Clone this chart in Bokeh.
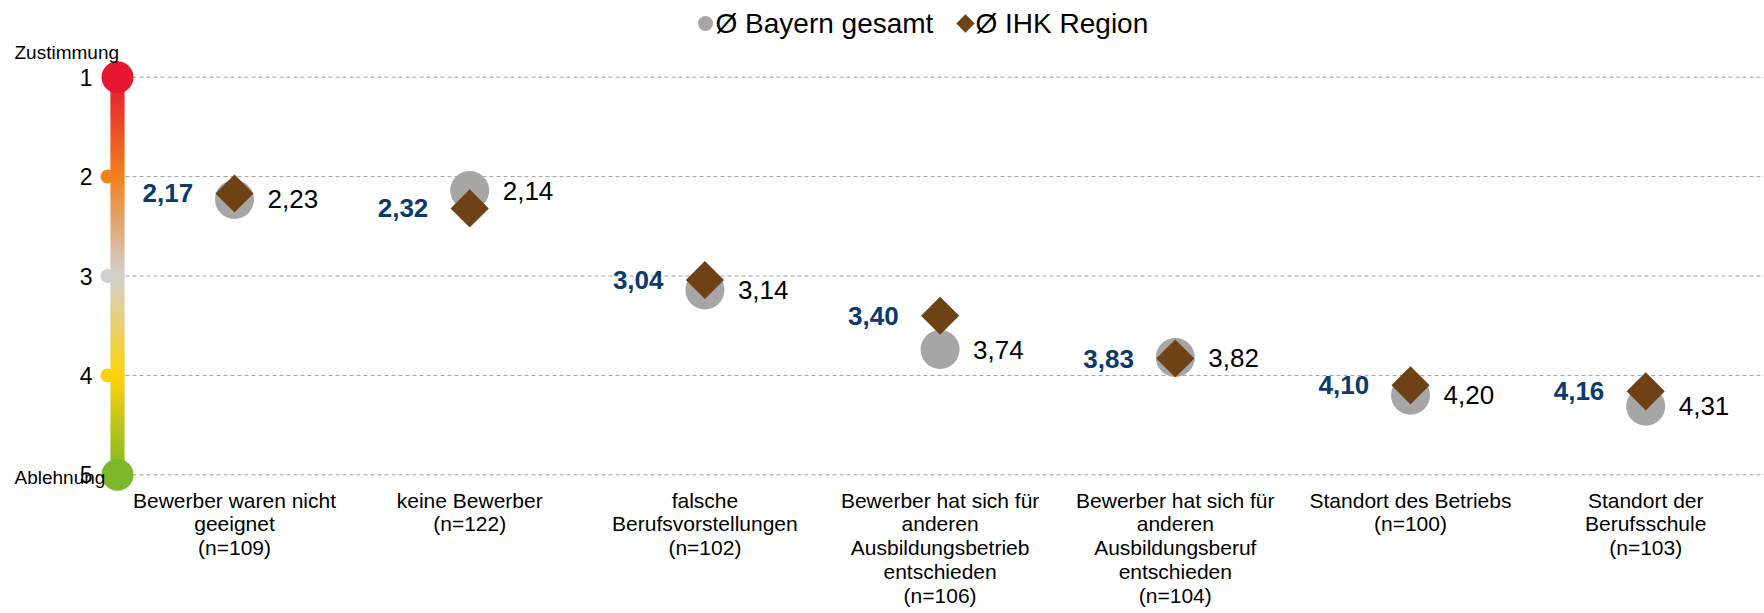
import numpy as np
from bokeh.plotting import figure
from bokeh.models import Range1d, ColumnDataSource
from bokeh.core.properties import value
from bokeh.embed import file_html
from bokeh.resources import INLINE

# ---------------- data ----------------
categories = [
    "Bewerber waren nicht\ngeeignet\n(n=109)",
    "keine Bewerber\n(n=122)",
    "falsche\nBerufsvorstellungen\n(n=102)",
    "Bewerber hat sich für\nanderen\nAusbildungsbetrieb\nentschieden\n(n=106)",
    "Bewerber hat sich für\nanderen\nAusbildungsberuf\nentschieden\n(n=104)",
    "Standort des Betriebs\n(n=100)",
    "Standort der\nBerufsschule\n(n=103)",
]
ihk_region = [2.17, 2.32, 3.04, 3.40, 3.83, 4.10, 4.16]
bayern_gesamt = [2.23, 2.14, 3.14, 3.74, 3.82, 4.20, 4.31]
scale_ticks = [1, 2, 3, 4, 5]
scale_tick_labels = ["1", "2", "3", "4", "5"]
scale_top_label = "Zustimmung"
scale_bottom_label = "Ablehnung"
legend_labels = ["Ø Bayern gesamt", "Ø IHK Region"]

# ---------------- styles ----------------
FONT = value("Liberation Sans")
GRAY = "#A6A6A6"
BROWN = "#6F4216"
BLUE = "#0B3A6E"
stop_colors = ["#E4172F", "#F0821E", "#D1D0CE", "#FDD20B", "#7DB82B"]

W, H = 1764, 613
X0, DX = 234.0, 235.2   # pixel of first category, category spacing
Y1, DY = 76.7, 99.4     # pixel of value 1, pixels per unit


def fx(px):
    return (px - X0) / DX


def fy(py):
    return 1 + (py - Y1) / DY


p = figure(width=W, height=H,
           x_range=Range1d(fx(0), fx(W)),
           y_range=Range1d(fy(H), fy(0)),
           x_axis_location=None, y_axis_location=None,
           output_backend="svg", toolbar_location=None,
           min_border=0)
p.grid.visible = False
p.outline_line_color = None
p.background_fill_color = "white"

# ---------------- grid lines ----------------
p.segment(x0=[fx(125)] * len(scale_ticks), x1=[fx(W)] * len(scale_ticks),
          y0=scale_ticks, y1=scale_ticks,
          line_color="#A0A0A0", line_width=1, line_dash="4 3")

# ---------------- gradient scale bar ----------------
def hex2rgb(h):
    h = h.lstrip("#")
    return np.array([int(h[i:i + 2], 16) for i in (0, 2, 4)], dtype=float)


stop_rgb = [hex2rgb(c) for c in stop_colors]
n_sl = 200
edges = np.linspace(scale_ticks[0], scale_ticks[-1], n_sl + 1)
sl_colors = []
for k in range(n_sl):
    ym = 0.5 * (edges[k] + edges[k + 1])
    j = min(int(np.floor(ym - scale_ticks[0])), len(stop_rgb) - 2)
    t = ym - scale_ticks[0] - j
    c = (1 - t) * stop_rgb[j] + t * stop_rgb[j + 1]
    sl_colors.append("#%02x%02x%02x" % tuple(int(round(v)) for v in c))
ov = 0.004
p.quad(left=fx(110), right=fx(124),
       bottom=edges[1:] + ov, top=edges[:-1] - ov,
       fill_color=sl_colors, line_color=None)

# end circles and small dots
p.scatter(x=[fx(117)] * 2, y=[scale_ticks[0], scale_ticks[-1]], size=32,
          marker="circle", fill_color=[stop_colors[0], stop_colors[-1]], line_color=None)
p.scatter(x=[fx(107)] * 3, y=scale_ticks[1:-1], size=14,
          marker="circle", fill_color=stop_colors[1:-1], line_color=None)

# scale texts
p.text(x=[fx(92)] * len(scale_ticks), y=scale_ticks, text=scale_tick_labels,
       text_align="right", text_baseline="middle", text_font=FONT,
       text_font_size="23px", text_color="black")
p.text(x=[fx(14)], y=[fy(52)], text=[scale_top_label], text_align="left",
       text_baseline="middle", text_font=FONT, text_font_size="19px", text_color="black")
p.text(x=[fx(14)], y=[fy(477)], text=[scale_bottom_label], text_align="left",
       text_baseline="middle", text_font=FONT, text_font_size="19px", text_color="black")

# ---------------- data markers ----------------
xs = list(range(len(categories)))
src = ColumnDataSource(dict(
    x=xs, ihk=ihk_region, bay=bayern_gesamt,
    ihk_lbl=[f"{v:.2f}".replace(".", ",") for v in ihk_region],
    bay_lbl=[f"{v:.2f}".replace(".", ",") for v in bayern_gesamt],
    cat=categories,
))
p.scatter(x="x", y="bay", source=src, marker="circle", size=39,
          fill_color=GRAY, line_color=None)
p.scatter(x="x", y="ihk", source=src, marker="square", size=27, angle=np.pi / 4,
          fill_color=BROWN, line_color=None)

p.text(x="x", y="ihk", text="ihk_lbl", source=src, x_offset=-92,
       text_align="left", text_baseline="middle", text_font=FONT,
       text_font_size="26px", text_font_style="bold", text_color=BLUE)
p.text(x="x", y="bay", text="bay_lbl", source=src, x_offset=33,
       text_align="left", text_baseline="middle", text_font=FONT,
       text_font_size="26px", text_color="black")

# category labels
p.text(x="x", y=fy(488), text="cat", source=src, text_align="center",
       text_baseline="top", text_font=FONT, text_font_size="21px",
       text_color="black", text_line_height=1.04)

# ---------------- legend ----------------
p.scatter(x=[fx(705)], y=[fy(23)], marker="circle", size=15,
          fill_color=GRAY, line_color=None)
p.scatter(x=[fx(965)], y=[fy(23)], marker="square", size=13, angle=np.pi / 4,
          fill_color=BROWN, line_color=None)
p.text(x=[fx(715), fx(975)], y=[fy(23), fy(23)], text=legend_labels,
       text_align="left", text_baseline="middle", text_font=FONT,
       text_font_size="28px", text_color="black")

open("out.html", "w").write(file_html(p, INLINE))
